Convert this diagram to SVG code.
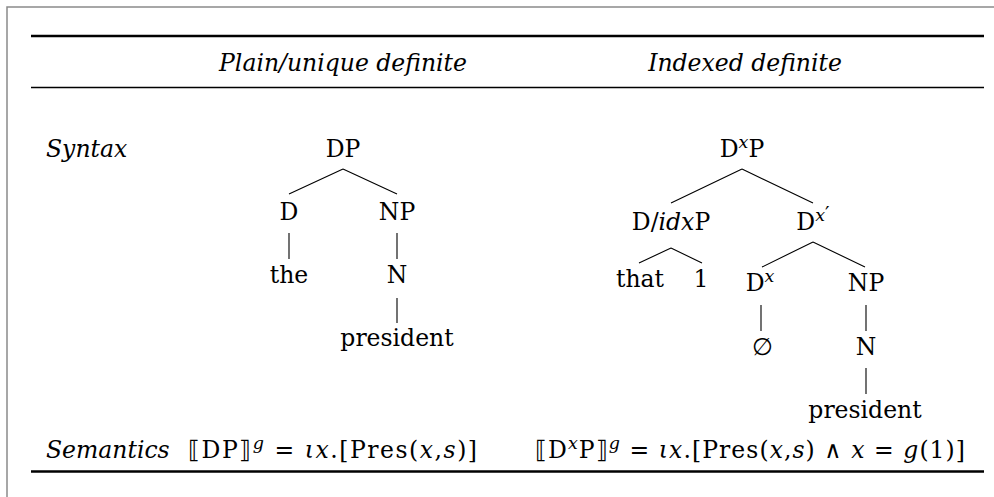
<svg xmlns="http://www.w3.org/2000/svg" width="994" height="497" viewBox="0 0 994 497">
<style>
text{font-family:"DejaVu Serif","Liberation Serif",serif;font-size:23.5px;fill:#000}
.c{text-anchor:middle}
.i{font-style:italic}
.sup{font-size:17.5px;font-style:italic}
.pr{font-style:normal;font-size:20px}
.e{stroke:#000;stroke-width:1.1;fill:none}
.frame{stroke:#8a8a8a;stroke-width:1.5;fill:none}
.rule{stroke:#000;fill:none}
</style>
<rect width="994" height="497" fill="#fff"/>
<g id="frame">
<path class="frame" d="M7,497 V7 H994"/>
<line class="rule" x1="31" y1="36" x2="984" y2="36" stroke-width="2.6"/>
<line class="rule" x1="31" y1="87.5" x2="984" y2="87.5" stroke-width="1.5"/>
<line class="rule" x1="31" y1="471.5" x2="984" y2="471.5" stroke-width="2.6"/>
</g>
<g id="headers">
<text id="h-plain" class="c i" x="343" y="71">Plain/unique definite</text>
<text id="h-indexed" class="c i" x="745" y="71">Indexed definite</text>
<text id="row-syntax" class="i" x="46" y="157">Syntax</text>
<text id="row-semantics" class="i" x="46" y="458">Semantics</text>
</g>
<g id="connectors">
<path class="e" d="M343,169 L289,194 M343,169 L397,194"/>
<path class="e" d="M289,233 V259 M397,233 V259 M397,298 V323"/>
<path class="e" d="M742,169 L671,203 M742,169 L813,203"/>
<path class="e" d="M671,248 L639,263 M671,248 L702,263"/>
<path class="e" d="M813,242 L762,267 M813,242 L865,267"/>
<path class="e" d="M761,305 V331 M866,305 V331 M866,368 V394"/>
</g>
<g id="tree-plain">
<g id="n-DP"><text class="c" x="343" y="157">DP</text></g>
<g id="n-D"><text class="c" x="289" y="220">D</text></g>
<g id="n-NP"><text class="c" x="397" y="220">NP</text></g>
<g id="n-the"><text class="c" x="289" y="283">the</text></g>
<g id="n-N"><text class="c" x="397" y="283">N</text></g>
<g id="n-president"><text class="c" x="397" y="346">president</text></g>
</g>
<g id="tree-indexed">
<g id="n-DxP"><text class="c" x="742" y="157">D<tspan class="sup" dy="-9">x</tspan><tspan dy="9">P</tspan></text></g>
<g id="n-DidxP"><text class="c" x="671" y="230">D/<tspan class="i">idx</tspan>P</text></g>
<g id="n-Dxbar"><text class="c" x="813" y="230">D<tspan class="sup" dy="-9">x<tspan class="pr">′</tspan></tspan></text></g>
<g id="n-that"><text class="c" x="640" y="287">that</text></g>
<g id="n-1"><text class="c" x="701" y="287">1</text></g>
<g id="n-Dx"><text class="c" x="760" y="291">D<tspan class="sup" dy="-9">x</tspan></text></g>
<g id="n-NP2"><text class="c" x="866" y="291">NP</text></g>
<g id="n-empty"><text class="c" x="762" y="355">∅</text></g>
<g id="n-N2"><text class="c" x="866" y="355">N</text></g>
<g id="n-president2"><text class="c" x="865" y="418">president</text></g>
</g>
<g id="semantics">
<text id="sem-plain" x="188" y="458" textLength="289" lengthAdjust="spacing">⟦DP⟧<tspan class="sup" dy="-9">g</tspan><tspan dy="9"> = </tspan><tspan class="i">ιx</tspan>.[Pres(<tspan class="i">x</tspan>,<tspan class="i">s</tspan>)]</text>
<text id="sem-indexed" x="535" y="458" textLength="430" lengthAdjust="spacing">⟦D<tspan class="sup" dy="-9">x</tspan><tspan dy="9">P⟧</tspan><tspan class="sup" dy="-9">g</tspan><tspan dy="9"> = </tspan><tspan class="i">ιx</tspan>.[Pres(<tspan class="i">x</tspan>,<tspan class="i">s</tspan>) ∧ <tspan class="i">x</tspan> = <tspan class="i">g</tspan>(1)]</text>
</g>
</svg>
